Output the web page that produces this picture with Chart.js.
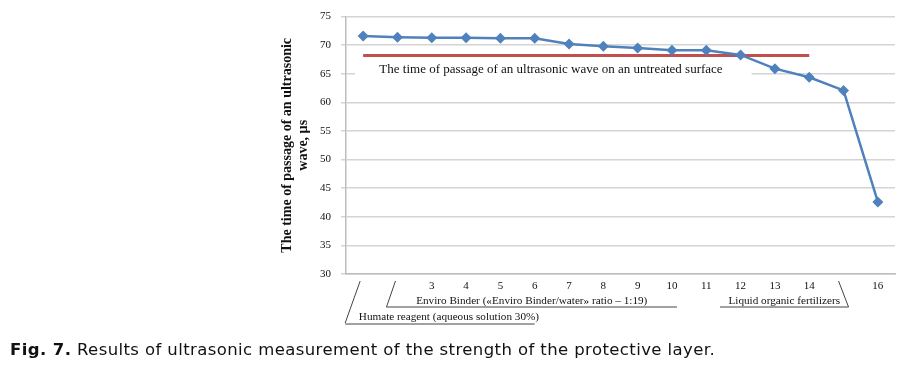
<!DOCTYPE html>
<html>
<head>
    <meta charset="UTF-8">
    <title>Ultrasonic measurement</title>
    <script src="https://cdn.jsdelivr.net/npm/chart.js"></script>
    <style>
        body { margin: 0; background: #fff; }
        #wrap { position: relative; width: 904px; height: 369px; }
        #caption {
            position: absolute; left: 10px; top: 340px;
            font-family: "DejaVu Sans", sans-serif; font-size: 16.5px; letter-spacing: 0.4px; color: #111;
            white-space: nowrap;
        }
    </style>
</head>
<body>
<div id="wrap">
    <canvas id="chart" width="904" height="369"></canvas>
    <div id="caption"><b>Fig. 7.</b> Results of ultrasonic measurement of the strength of the protective layer.</div>
</div>

<script>
    // sample numbers 1..16 and what is printed under each of them
    var categories = [1, 2, 3, 4, 5, 6, 7, 8, 9, 10, 11, 12, 13, 14, 15, 16];
    var tickLabels = ['', '', '3', '4', '5', '6', '7', '8', '9', '10', '11', '12', '13', '14', '', '16'];

    // time of passage, µs
    var passageTime = [71.6, 71.4, 71.3, 71.3, 71.2, 71.2, 70.2, 69.8, 69.5, 69.1, 69.1, 68.3, 65.9, 64.4, 62.1, 42.6];

    // untreated surface reference, drawn from sample 1 to sample 14
    var untreated = [68.2, null, null, null, null, null, null, null, null, null, null, null, null, 68.2, null, null];
    var untreatedLabel = 'The time of passage of an ultrasonic wave on an untreated surface';

    var yTicks = { min: 30, max: 75, step: 5 };
    var yTitle = ['The time of passage of an ultrasonic', 'wave, \u00b5s'];

    var groupHumate = 'Humate reagent (aqueous solution 30%)';
    var groupEnviro = 'Enviro Binder (\u00abEnviro Binder/water\u00bb ratio \u2013 1:19)';
    var groupLiquid = 'Liquid organic fertilizers';

    var serif = '"Liberation Serif", "Times New Roman", serif';

    // label of the red line, with a white box behind it
    var refLabelPlugin = {
        id: 'refLabel',
        beforeDatasetsDraw: function (chart) {
            var ctx = chart.ctx, x = chart.scales.x, y = chart.scales.y;
            var cy = y.getPixelForValue(65.8);
            var left = chart.chartArea.left + 9;
            var right = x.getPixelForValue(11) + 11;
            ctx.save();
            ctx.fillStyle = '#fff';
            ctx.fillRect(left, cy - 8, right - left, 16);
            ctx.fillStyle = '#111';
            ctx.font = '13px ' + serif;
            ctx.textAlign = 'center';
            ctx.textBaseline = 'middle';
            ctx.fillText(untreatedLabel, 551, cy);
            ctx.restore();
        }
    };

    // group brackets under the category axis
    var groupPlugin = {
        id: 'groups',
        afterDraw: function (chart) {
            var ctx = chart.ctx, x = chart.scales.x;
            var b = chart.chartArea.bottom;
            var c = function (i) { return x.getPixelForValue(i); };
            ctx.save();
            ctx.strokeStyle = '#444';
            ctx.lineWidth = 1;
            ctx.fillStyle = '#111';
            ctx.font = '11.2px ' + serif;
            ctx.textAlign = 'center';
            ctx.textBaseline = 'middle';

            // humate reagent: sample 1
            ctx.beginPath();
            ctx.moveTo(c(0) - 3, b + 7);
            ctx.lineTo(c(0) - 18, b + 49);
            ctx.moveTo(c(0) - 18, b + 50);
            ctx.lineTo(c(5), b + 50);
            ctx.stroke();
            ctx.fillText(groupHumate, c(2.5), b + 43);

            // enviro binder: samples 2..11
            ctx.beginPath();
            ctx.moveTo(c(1) - 2, b + 7);
            ctx.lineTo(c(1) - 11, b + 33);
            ctx.lineTo(c(9) + 5, b + 33);
            ctx.stroke();
            ctx.fillText(groupEnviro, (c(1) - 11 + c(9) + 5) / 2, b + 27);

            // liquid organic fertilizers: samples 12..15
            ctx.beginPath();
            ctx.moveTo(c(10.4), b + 33);
            ctx.lineTo(c(14) + 5, b + 33);
            ctx.lineTo(c(14) - 5, b + 7);
            ctx.stroke();
            ctx.fillText(groupLiquid, (c(10.4) + c(14) + 5) / 2, b + 27);
            ctx.restore();
        }
    };

    var ctx = document.getElementById('chart').getContext('2d');
    var chart = new Chart(ctx, {
        type: 'line',
        data: {
            labels: categories,
            datasets: [
                {
                    label: 'Passage time',
                    data: passageTime,
                    borderColor: '#4f81bd',
                    backgroundColor: '#4f81bd',
                    borderWidth: 2.5,
                    pointStyle: 'rectRot',
                    pointRadius: 5.5,
                    pointBorderWidth: 0,
                    tension: 0,
                    order: 1
                },
                {
                    label: 'Untreated surface',
                    data: untreated,
                    borderColor: '#c0504d',
                    borderWidth: 3,
                    pointRadius: 0,
                    spanGaps: true,
                    order: 2
                }
            ]
        },
        options: {
            responsive: false,
            animation: false,
            layout: { padding: { left: 270, top: 15, right: 9, bottom: 75 } },
            plugins: {
                legend: { display: false },
                tooltip: { enabled: false }
            },
            scales: {
                x: {
                    offset: true,
                    grid: { display: false, drawTicks: false },
                    border: { display: true, color: '#bdbdbd', width: 1.5 },
                    ticks: {
                        padding: 6,
                        color: '#111',
                        font: { family: serif, size: 11 },
                        autoSkip: false,
                        maxRotation: 0,
                        callback: function (value, index) { return tickLabels[index]; }
                    },
                    afterFit: function (scale) { scale.height = 20; }
                },
                y: {
                    min: yTicks.min,
                    max: yTicks.max,
                    grid: { color: '#d4d4d4', lineWidth: 1.5, tickLength: 5 },
                    border: { display: true, color: '#bdbdbd', width: 1.5 },
                    ticks: {
                        stepSize: yTicks.step,
                        padding: 10,
                        color: '#111',
                        font: { family: serif, size: 11 }
                    },
                    title: {
                        display: true,
                        text: yTitle,
                        color: '#111',
                        font: { family: serif, size: 14, weight: 'bold', lineHeight: 1.15 },
                        padding: { top: 9, bottom: 0 }
                    },
                    afterFit: function (scale) { scale.width = 76; }
                }
            }
        },
        plugins: [refLabelPlugin, groupPlugin]
    });
</script>
</body>
</html>
